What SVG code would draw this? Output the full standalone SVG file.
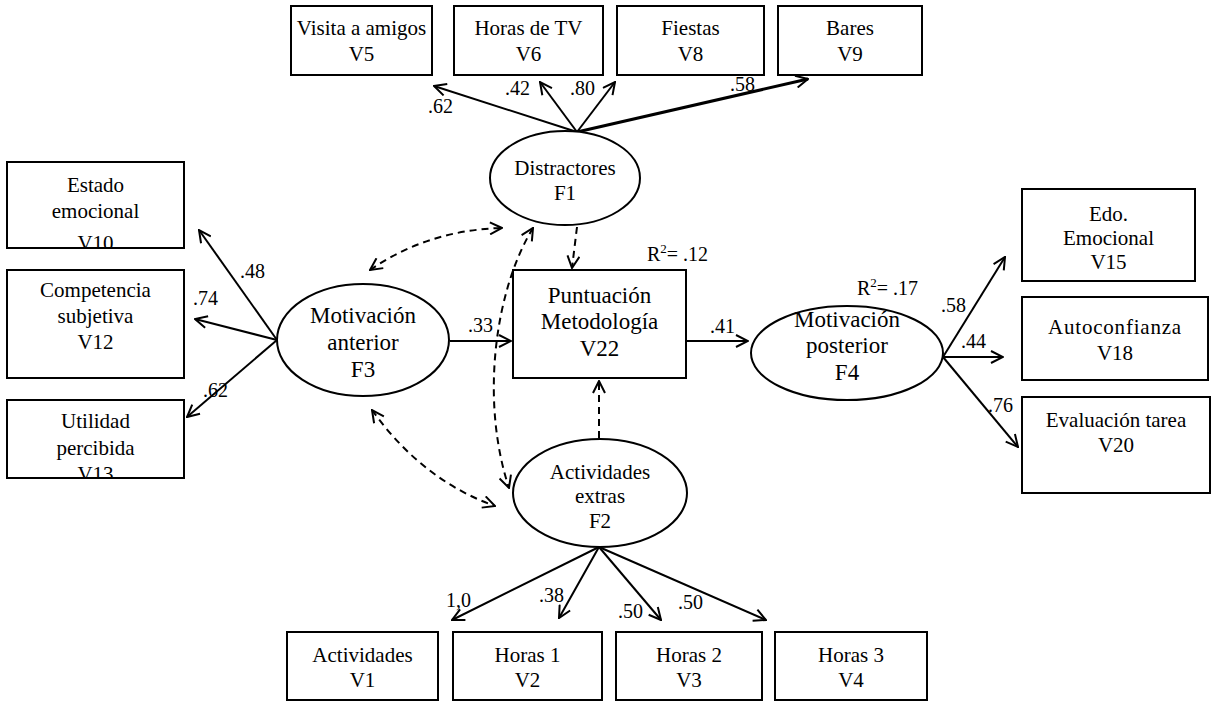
<svg xmlns="http://www.w3.org/2000/svg" width="1215" height="702" viewBox="0 0 1215 702">
<style>
text{font-family:"Liberation Serif","Times New Roman",serif;fill:#000;}
.t{font-size:21px;text-anchor:middle;}
.tb{font-size:23px;text-anchor:middle;}
.lb{font-size:20px;}
.box{fill:#fff;stroke:#000;stroke-width:2;}
.ell{fill:#fff;stroke:#000;stroke-width:2;}
.ar{fill:none;stroke:#000;stroke-width:2;marker-end:url(#ah);}
.da{fill:none;stroke:#000;stroke-width:2;stroke-dasharray:7 5;marker-end:url(#ah);}
.db{fill:none;stroke:#000;stroke-width:2;stroke-dasharray:7 5;marker-start:url(#ah);marker-end:url(#ah);}
</style>
<defs>
<marker id="ah" viewBox="0 0 14 14" refX="13" refY="7" markerWidth="14" markerHeight="14" markerUnits="userSpaceOnUse" orient="auto-start-reverse">
<path d="M1,1 L13,7 L1,13" fill="none" stroke="#000" stroke-width="2"/>
</marker>
<clipPath id="cV10"><rect x="7" y="162" width="177" height="86"/></clipPath>
<clipPath id="cV13"><rect x="7" y="400" width="177" height="78"/></clipPath>
</defs>

<g id="connectors">
<line class="ar" x1="577" y1="132" x2="434" y2="86"/>
<line class="ar" x1="577" y1="132" x2="540" y2="82"/>
<line class="ar" x1="577" y1="132" x2="615" y2="82"/>
<line class="ar" x1="577" y1="132" x2="808" y2="79" style="stroke-width:3"/>
<line class="ar" x1="277" y1="340" x2="199" y2="230"/>
<line class="ar" x1="277" y1="340" x2="195" y2="319"/>
<line class="ar" x1="277" y1="340" x2="187" y2="417"/>
<line class="ar" x1="450" y1="341" x2="511" y2="341"/>
<line class="ar" x1="686" y1="341" x2="748" y2="341"/>
<line class="ar" x1="943" y1="357" x2="1005" y2="257"/>
<line class="ar" x1="943" y1="357" x2="1003" y2="357"/>
<line class="ar" x1="943" y1="357" x2="1018" y2="447"/>
<line class="ar" x1="599" y1="547" x2="452" y2="620"/>
<line class="ar" x1="599" y1="547" x2="559" y2="618"/>
<line class="ar" x1="599" y1="547" x2="661" y2="620"/>
<line class="ar" x1="599" y1="547" x2="766" y2="620"/>
<line class="da" x1="577" y1="227" x2="572" y2="268"/>
<line class="da" x1="599" y1="438" x2="599" y2="381"/>
<path class="db" d="M370,270 Q428,230 502,228"/>
<path class="db" d="M372,410 Q422,480 495,506"/>
<path class="db" d="M533,228 C495,290 480,400 509,488"/>
</g>

<g id="V5"><rect class="box" x="291" y="6" width="141" height="69"/><text class="t" x="361.5" y="35">Visita a amigos</text><text class="t" x="361.5" y="61">V5</text></g>
<g id="V6"><rect class="box" x="454" y="6" width="149" height="69"/><text class="t" x="528.5" y="35">Horas de TV</text><text class="t" x="528.5" y="61">V6</text></g>
<g id="V8"><rect class="box" x="617" y="6" width="147" height="69"/><text class="t" x="690.5" y="35">Fiestas</text><text class="t" x="690.5" y="61">V8</text></g>
<g id="V9"><rect class="box" x="778" y="6" width="144" height="69"/><text class="t" x="850" y="35">Bares</text><text class="t" x="850" y="61">V9</text></g>

<g id="F1"><ellipse class="ell" cx="565" cy="178" rx="75" ry="47"/><text class="t" x="565" y="175">Distractores</text><text class="t" x="565" y="200">F1</text></g>

<g id="V10"><rect class="box" x="7" y="162" width="177" height="86"/><text class="t" x="95.5" y="192">Estado</text><text class="t" x="95.5" y="218">emocional</text><text class="t" x="95.5" y="250" clip-path="url(#cV10)">V10</text></g>
<g id="V12"><rect class="box" x="7" y="270" width="177" height="108"/><text class="t" x="95.5" y="297">Competencia</text><text class="t" x="95.5" y="323">subjetiva</text><text class="t" x="95.5" y="349">V12</text></g>
<g id="V13"><rect class="box" x="7" y="400" width="177" height="78"/><text class="t" x="95.5" y="428">Utilidad</text><text class="t" x="95.5" y="455">percibida</text><text class="t" x="95.5" y="481" clip-path="url(#cV13)">V13</text></g>

<g id="F3"><ellipse class="ell" cx="363" cy="340" rx="86" ry="56"/><text class="tb" x="363" y="323">Motivación</text><text class="tb" x="363" y="350">anterior</text><text class="tb" x="363" y="377">F3</text></g>

<g id="V22"><rect class="box" x="513" y="270" width="173" height="108"/><text class="tb" x="599.5" y="303">Puntuación</text><text class="tb" x="599.5" y="329">Metodología</text><text class="tb" x="599.5" y="356">V22</text></g>

<g id="F4"><ellipse class="ell" cx="847" cy="353" rx="96" ry="47"/><text class="tb" x="847" y="327">Motivación</text><text class="tb" x="847" y="353">posterior</text><text class="tb" x="847" y="380">F4</text></g>

<g id="V15"><rect class="box" x="1022" y="189" width="173" height="92"/><text class="t" x="1108.5" y="221">Edo.</text><text class="t" x="1108.5" y="245">Emocional</text><text class="t" x="1108.5" y="269">V15</text></g>
<g id="V18"><rect class="box" x="1022" y="297" width="186" height="83"/><text class="t" x="1115" y="334" style="letter-spacing:0.8px">Autoconfianza</text><text class="t" x="1115" y="360">V18</text></g>
<g id="V20"><rect class="box" x="1022" y="397" width="188" height="96"/><text class="t" x="1116" y="427">Evaluación tarea</text><text class="t" x="1116" y="452">V20</text></g>

<g id="F2"><ellipse class="ell" cx="600" cy="493" rx="87" ry="54"/><text class="t" x="600" y="479">Actividades</text><text class="t" x="600" y="503">extras</text><text class="t" x="600" y="528">F2</text></g>

<g id="V1"><rect class="box" x="287" y="632" width="151" height="68"/><text class="t" x="362.5" y="662">Actividades</text><text class="t" x="362.5" y="687">V1</text></g>
<g id="V2"><rect class="box" x="453" y="632" width="149" height="68"/><text class="t" x="527.5" y="662">Horas 1</text><text class="t" x="527.5" y="687">V2</text></g>
<g id="V3"><rect class="box" x="616" y="632" width="146" height="68"/><text class="t" x="689" y="662">Horas 2</text><text class="t" x="689" y="687">V3</text></g>
<g id="V4"><rect class="box" x="775" y="632" width="152" height="68"/><text class="t" x="851" y="662">Horas 3</text><text class="t" x="851" y="687">V4</text></g>

<g id="labels">
<text class="lb" x="428" y="113">.62</text>
<text class="lb" x="505" y="95">.42</text>
<text class="lb" x="570" y="95">.80</text>
<text class="lb" x="730" y="91">.58</text>
<text class="lb" x="240" y="278">.48</text>
<text class="lb" x="193" y="305">.74</text>
<text class="lb" x="203" y="397">.62</text>
<text class="lb" x="468" y="332">.33</text>
<text class="lb" x="647" y="261">R<tspan dy="-8" font-size="13">2</tspan><tspan dy="8">= .12</tspan></text>
<text class="lb" x="710" y="333">.41</text>
<text class="lb" x="857" y="295">R<tspan dy="-8" font-size="13">2</tspan><tspan dy="8">= .17</tspan></text>
<text class="lb" x="941" y="312">.58</text>
<text class="lb" x="961" y="348">.44</text>
<text class="lb" x="988" y="412">.76</text>
<text class="lb" x="446" y="607">1,0</text>
<text class="lb" x="539" y="602">.38</text>
<text class="lb" x="618" y="618">.50</text>
<text class="lb" x="678" y="609">.50</text>
</g>
</svg>
